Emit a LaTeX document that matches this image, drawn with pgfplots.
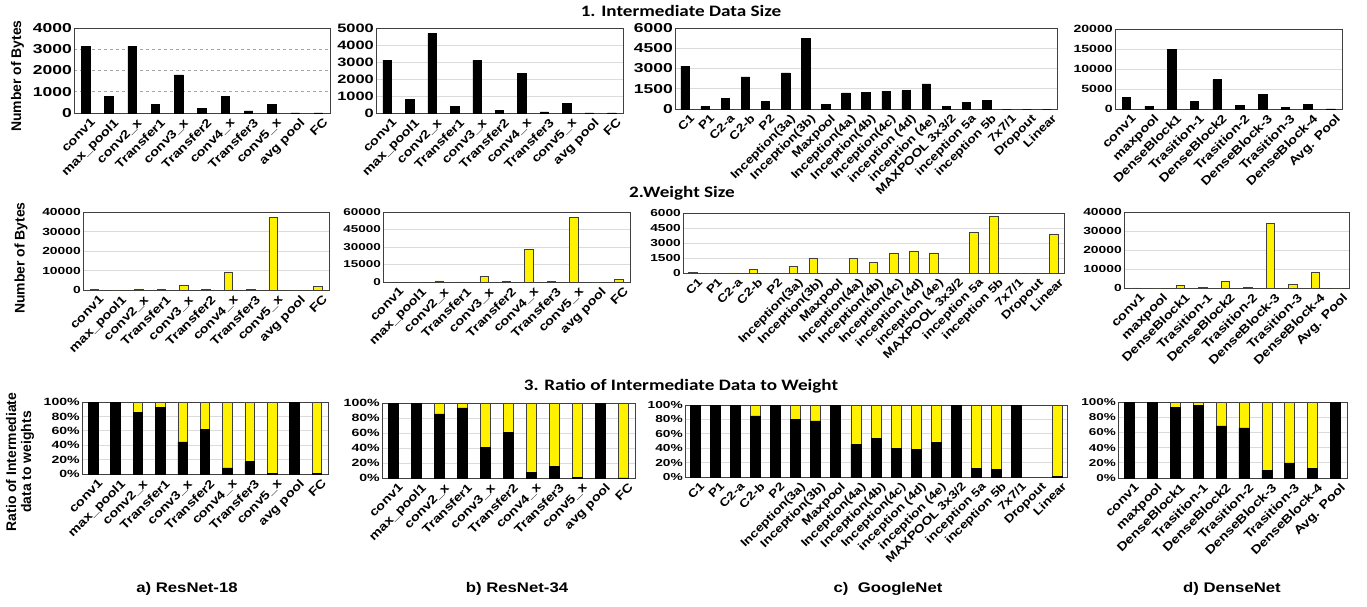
\documentclass[border=0pt]{standalone}
\usepackage{fontspec}
\setmainfont{Liberation Sans}[FakeStretch=1.2]
\newfontfamily\tickfam{Liberation Sans}[FakeStretch=1.35]
\newfontfamily\plainfam{Liberation Sans}
\newfontfamily\titlefam{Carlito}[FakeStretch=1.2]
\usepackage{pgfplots}
\pgfplotsset{compat=1.18}

\newcommand\yt[1]{\tickfam\bfseries\fontsize{#1}{#1}\selectfont}

\pgfplotsset{
  panel/.style={
    scale only axis, anchor=south west,
    xmin=-0.5, ymin=0,
    axis line style={black!75, line width=0.9bp},
    tick style={draw=none},
    ymajorgrids,
    grid style={black!14, line width=0.9bp},
    scaled y ticks=false,
    /pgf/number format/1000 sep={},
    /pgf/number format/assume math mode=true,
    x tick label style={font=\bfseries\fontsize{12}{12}\selectfont, rotate=45, anchor=north east, inner sep=1bp, yshift=-5bp, xshift=1bp},
    y tick label style={inner sep=2bp},
    ylabel style={font=\plainfam\bfseries\fontsize{14}{15}\selectfont, anchor=center, align=center},
  },
  resnet/.style={xmax=10.5, xtick={0,...,10},
    xticklabels={conv1, max\_pool1, conv2\_x, Transfer1, conv3\_x, Transfer2, conv4\_x, Transfer3, conv5\_x, avg pool, FC}},
  google/.style={xmax=18.5, xtick={0,...,18},
    x tick label style={font=\bfseries\fontsize{11.5}{12}\selectfont},
    xticklabels={C1, P1, C2-a, C2-b, P2, Inception(3a), Inception(3b), Maxpool, Inception(4a), Inception(4b), Inception(4c), inception (4d), inception (4e), MAXPOOL 3x3/2, inception 5a, inception 5b, 7x7/1, Dropout, Linear}},
  dense/.style={xmax=9.5, xtick={0,...,9},
    xticklabels={conv1, maxpool, DenseBlock1, Trasition-1, DenseBlock2, Trasition-2, DenseBlock-3, Trasition-3, DenseBlock-4, Avg. Pool}},
  ratio/.style={ybar stacked, bar width=9.5bp, ymax=100, ytick={0,20,...,100},
    yticklabel={\pgfmathprintnumber{\tick}\%}, y tick label style={font=\yt{10.5}}},
  darkbar/.style={ybar, bar width=8.5bp, fill=black, draw=black, line width=0.6bp},
  yelbar/.style={ybar, bar width=8.5bp, fill=yellow, draw=black!75, line width=0.6bp},
  blk/.style={fill=black, draw=black, line width=0.6bp},
  yel/.style={fill=yellow, draw=black!75, line width=0.6bp},
}

\begin{document}
\begin{tikzpicture}
\path[use as bounding box] (0bp,0bp) rectangle (1367bp,-607bp);

% ---------------- 1. Intermediate data size ----------------
\begin{axis}[panel, resnet, at={(74bp,-113bp)}, width=256bp, height=85bp,
  ymax=4000, ytick={0,1000,...,4000}, y tick label style={font=\yt{13}},
  grid style={dashed, black!35, line width=0.8bp},
  ylabel={Number of Bytes}, ylabel style={at={(axis description cs:-0.221,0.435)}}]
\addplot[darkbar] coordinates {(0,3140) (1,790) (2,3140) (3,410) (4,1790) (5,200) (6,790) (7,100) (8,400) (9,8) (10,5)};
\end{axis}

\begin{axis}[panel, resnet, at={(376bp,-113bp)}, width=247bp, height=85bp,
  ymax=5000, ytick={0,1000,...,5000}, y tick label style={font=\yt{12.2}}]
\addplot[darkbar] coordinates {(0,3110) (1,780) (2,4680) (3,370) (4,3110) (5,170) (6,2330) (7,60) (8,560) (9,5) (10,5)};
\end{axis}

\begin{axis}[panel, google, at={(675bp,-109bp)}, width=382bp, height=81bp,
  ymax=6000, ytick={0,1500,...,6000}, y tick label style={font=\yt{13}}]
\addplot[darkbar] coordinates {(0,3170) (1,170) (2,790) (3,2380) (4,590) (5,2680) (6,5250) (7,370) (8,1190) (9,1240) (10,1310) (11,1360) (12,1860) (13,170) (14,510) (15,610) (16,0) (17,0) (18,0)};
\end{axis}

\begin{axis}[panel, dense, at={(1115bp,-109bp)}, width=227bp, height=80bp,
  ymax=20000, ytick={0,5000,...,20000}, y tick label style={font=\yt{10.5}}]
\addplot[darkbar] coordinates {(0,3000) (1,700) (2,14900) (3,1830) (4,7330) (5,830) (6,3580) (7,400) (8,1080) (9,50)};
\end{axis}

% ---------------- 2. Weight size ----------------
\begin{axis}[panel, resnet, at={(83bp,-290bp)}, width=246bp, height=78bp,
  ymax=40000, ytick={0,10000,...,40000}, y tick label style={font=\yt{10.3}},
  ylabel={Number of Bytes}, ylabel style={at={(axis description cs:-0.252,0.41)}}]
\addplot[yelbar] coordinates {(0,150) (1,0) (2,590) (3,200) (4,2350) (5,200) (6,9300) (7,400) (8,37100) (9,0) (10,2000)};
\end{axis}

\begin{axis}[panel, resnet, at={(383bp,-282bp)}, width=247bp, height=70bp,
  ymax=60000, ytick={0,15000,...,60000}, y tick label style={font=\yt{10}}]
\addplot[yelbar] coordinates {(0,150) (1,0) (2,900) (3,150) (4,4850) (5,300) (6,28000) (7,600) (8,55700) (9,0) (10,2000)};
\end{axis}

\begin{axis}[panel, google, at={(683bp,-273bp)}, width=381bp, height=60bp,
  ymax=6000, ytick={0,1500,...,6000}, y tick label style={font=\yt{10.2}}]
\addplot[yelbar] coordinates {(0,30) (1,0) (2,20) (3,400) (4,0) (5,640) (6,1520) (7,0) (8,1450) (9,1050) (10,1990) (11,2220) (12,2020) (13,0) (14,4080) (15,5660) (16,0) (17,0) (18,3910)};
\end{axis}

\begin{axis}[panel, dense, at={(1124bp,-288bp)}, width=225bp, height=76bp,
  ymax=40000, ytick={0,10000,...,40000}, y tick label style={font=\yt{10.3}}]
\addplot[yelbar] coordinates {(0,100) (1,0) (2,1400) (3,120) (4,3600) (5,400) (6,33900) (7,2100) (8,8350) (9,0)};
\end{axis}

% ---------------- 3. Ratio of intermediate data to weight ----------------
\begin{axis}[panel, resnet, ratio, at={(82bp,-474bp)}, width=246bp, height=72bp,
  ylabel={Ratio of Intermediate\\data to weights},
  ylabel style={at={(axis description cs:-0.252,0.167)}}]
\addplot[blk] coordinates {(0,100) (1,100) (2,85.5) (3,93) (4,44.5) (5,61.5) (6,8.5) (7,17) (8,1) (9,100) (10,0.5)};
\addplot[yel] coordinates {(0,0) (1,0) (2,14.5) (3,7) (4,55.5) (5,38.5) (6,91.5) (7,83) (8,99) (9,0) (10,99.5)};
\end{axis}

\begin{axis}[panel, resnet, ratio, at={(382bp,-478bp)}, width=253bp, height=75bp]
\addplot[blk] coordinates {(0,100) (1,100) (2,85.5) (3,93.5) (4,41) (5,61) (6,8) (7,16) (8,1) (9,100) (10,0.2)};
\addplot[yel] coordinates {(0,0) (1,0) (2,14.5) (3,6.5) (4,59) (5,39) (6,92) (7,84) (8,99) (9,0) (10,99.8)};
\end{axis}

\begin{axis}[panel, google, ratio, bar width=10bp, at={(685bp,-477bp)}, width=382bp, height=72bp,
  y tick label style={font=\yt{10.2}}]
\addplot[blk] coordinates {(0,100) (1,100) (2,99.5) (3,85) (4,100) (5,80.5) (6,78) (7,100) (8,45) (9,54) (10,40) (11,38) (12,48.5) (13,100) (14,12.5) (15,11) (16,100) (17,0) (18,0.5)};
\addplot[yel] coordinates {(0,0) (1,0) (2,0.5) (3,15) (4,0) (5,19.5) (6,22) (7,0) (8,55) (9,46) (10,60) (11,62) (12,51.5) (13,0) (14,87.5) (15,89) (16,0) (17,0) (18,99.5)};
\end{axis}

\begin{axis}[panel, dense, ratio, bar width=10bp, at={(1118bp,-478bp)}, width=229bp, height=76bp,
  y tick label style={font=\yt{10}}]
\addplot[blk] coordinates {(0,100) (1,100) (2,93) (3,95.5) (4,68.5) (5,66) (6,10.5) (7,20) (8,13) (9,100)};
\addplot[yel] coordinates {(0,0) (1,0) (2,7) (3,4.5) (4,31.5) (5,34) (6,89.5) (7,80) (8,87) (9,0)};
\end{axis}

% ---------------- titles and captions ----------------
\begin{scope}[every node/.style={font=\titlefam\bfseries\fontsize{16}{16}\selectfont}]
\node at (681bp,-11bp) {1. Intermediate Data Size};
\node at (682bp,-193bp) {2.Weight Size};
\node at (681bp,-386bp) {3. Ratio of Intermediate Data to Weight};
\end{scope}
\begin{scope}[every node/.style={font=\bfseries\fontsize{14}{14}\selectfont}]
\node at (187bp,-589bp) {a) ResNet-18};
\node at (517bp,-589bp) {b) ResNet-34};
\node at (888bp,-589bp) {c)\ \ GoogleNet};
\node at (1232bp,-589bp) {d) DenseNet};
\end{scope}
\end{tikzpicture}
\end{document}
